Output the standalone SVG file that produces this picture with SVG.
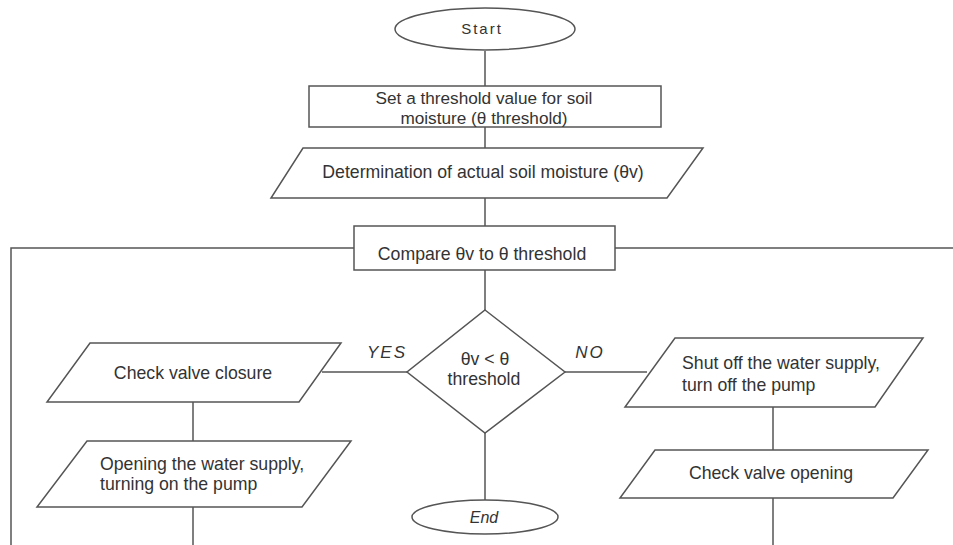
<svg xmlns="http://www.w3.org/2000/svg" width="953" height="545" viewBox="0 0 953 545">
<style>
.s{fill:#fff;stroke:#555;stroke-width:1.5}
.c{fill:none;stroke:#555;stroke-width:1.5}
text{font-family:"Liberation Sans",Arial,sans-serif;font-size:17.7px;fill:#333}
.m{text-anchor:middle}
.i{font-style:italic}
</style>
<rect width="953" height="545" fill="#fff"/>
<g id="connectors">
<path class="c" d="M485 51V86M485 127V148M485 198V226M485 270V310M485 433V500"/>
<path class="c" d="M354 248H11V545M615 248H953"/>
<path class="c" d="M407 372H322M565 372H647"/>
<path class="c" d="M193 402V441M193 507V545M773 407V450M773 498V545"/>
</g>
<g id="start"><ellipse class="s" cx="485" cy="29" rx="90" ry="21"/><text class="m" x="482" y="34" style="font-size:15px" letter-spacing="2">Start</text></g>
<g id="set"><rect class="s" x="309" y="86" width="352" height="41"/><text class="m" x="484" y="104" style="font-size:17.2px">Set a threshold value for soil</text><text class="m" x="484" y="123.5" style="font-size:17.2px">moisture (θ threshold)</text></g>
<g id="determine"><polygon class="s" points="303,148 703,148 667,198 271,198"/><text class="m" x="483" y="178">Determination of actual soil moisture (θv)</text></g>
<g id="compare"><rect class="s" x="354" y="226" width="261" height="44"/><text class="m" x="482" y="260">Compare θv to θ threshold</text></g>
<g id="decision"><polygon class="s" points="485,310 565,372 485,433 407,372"/><text class="m" x="485" y="365">θv &lt; θ</text><text class="m" x="484" y="385">threshold</text></g>
<text class="m i" x="387" y="358" style="font-size:17px" letter-spacing="2">YES</text>
<text class="m i" x="590" y="358" style="font-size:17px" letter-spacing="2">NO</text>
<g id="closure"><polygon class="s" points="90,343 341,343 299,402 47,402"/><text class="m" x="193" y="379">Check valve closure</text></g>
<g id="opening"><polygon class="s" points="87,441 351,441 302,507 37,507"/><text x="100" y="470">Opening the water supply,</text><text x="100" y="490">turning on the pump</text></g>
<g id="end"><ellipse class="s" cx="485" cy="517" rx="73" ry="17"/><text class="m i" x="484" y="523" style="font-size:16px">End</text></g>
<g id="shut"><polygon class="s" points="675,338 923,338 875,407 625,407"/><text x="682" y="369">Shut off the water supply,</text><text x="682" y="391">turn off the pump</text></g>
<g id="valveopen"><polygon class="s" points="655,450 928,450 893,498 620,498"/><text class="m" x="771" y="479">Check valve opening</text></g>
</svg>
